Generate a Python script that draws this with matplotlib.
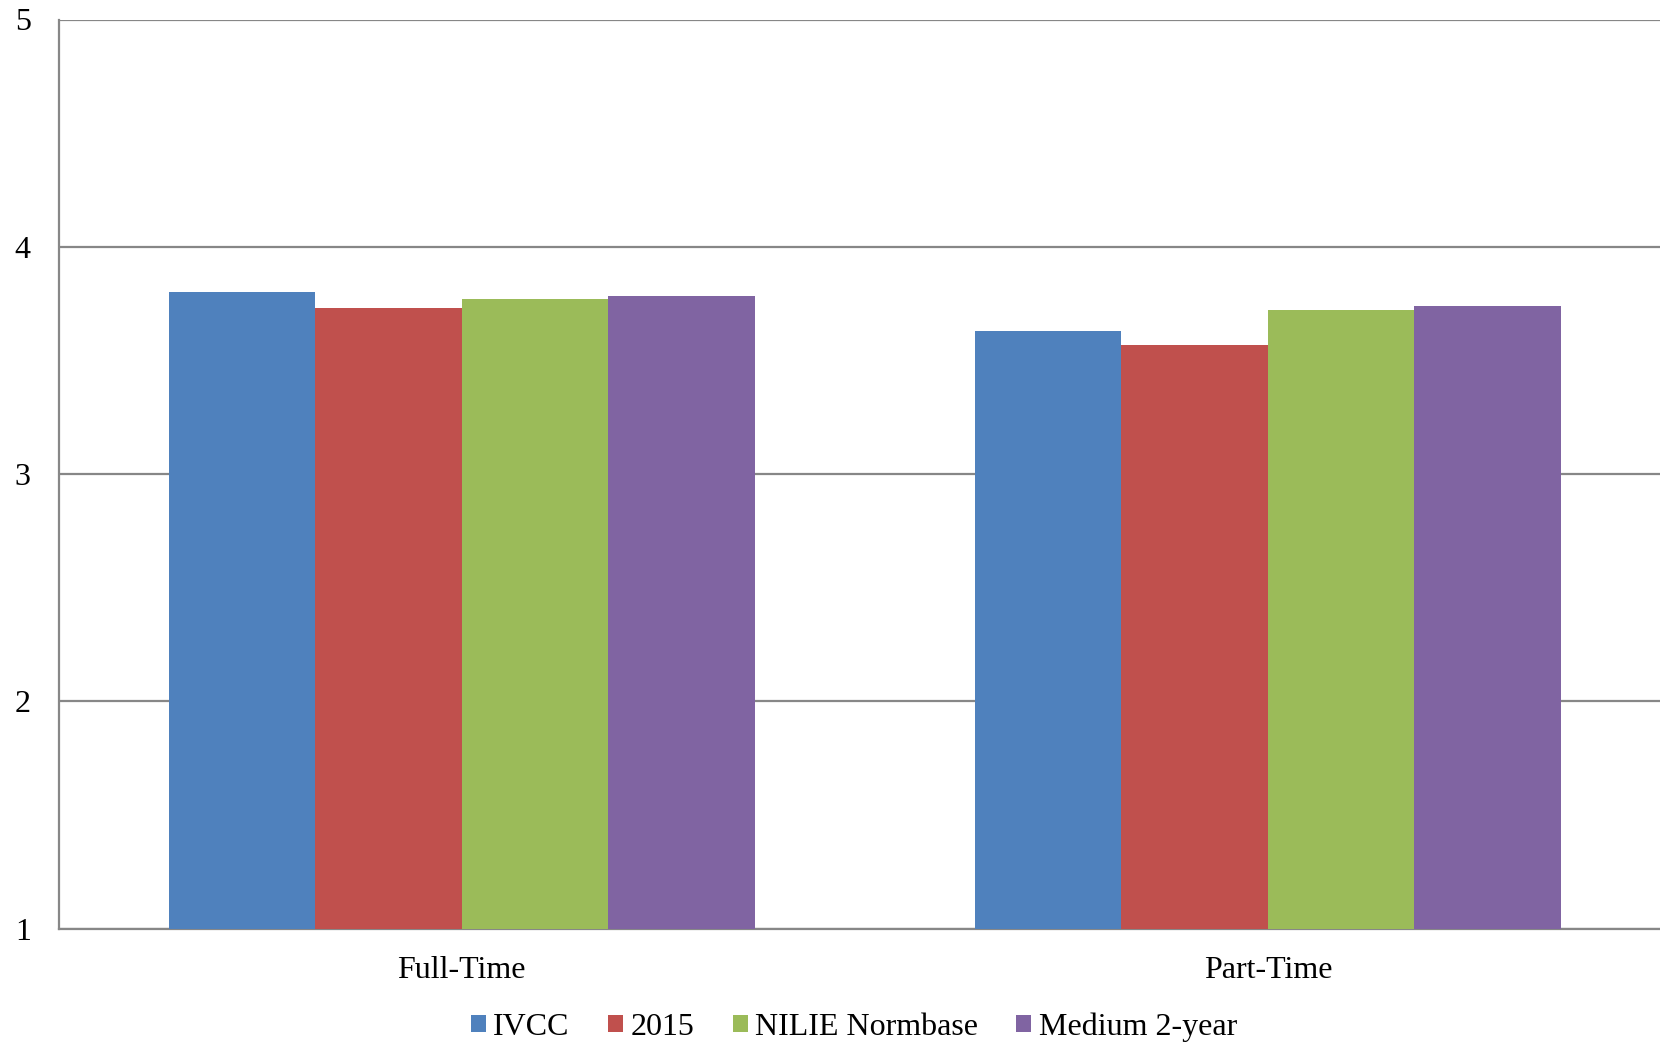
import numpy as np
import matplotlib.pyplot as plt
from matplotlib.patches import Patch

plt.rcParams['font.family'] = ['Liberation Serif', 'DejaVu Serif']

categories = ['Full-Time', 'Part-Time']
series = ['IVCC', '2015', 'NILIE Normbase', 'Medium 2-year']
ivcc = [3.80, 3.63]
y2015 = [3.73, 3.57]
nilie = [3.77, 3.72]
medium = [3.785, 3.74]
colors = ['#4F81BD', '#C0504D', '#9BBB59', '#8064A2']

values = [ivcc, y2015, nilie, medium]

W, H = 1660, 1045
fig = plt.figure(figsize=(W / 100, H / 100), dpi=100)
# axes runs a bit past the right edge of the picture, like the original
left, right, top, bottom = 58.5, 1671, 19.5, 928.7
ax = fig.add_axes([left / W, (H - bottom) / H, (right - left) / W, (bottom - top) / H])

x = np.arange(len(categories))
bw = 0.1817
for i, vals in enumerate(values):
    ax.bar(x + (i - 1.5) * bw, np.array(vals) - 1, bottom=1, width=bw,
           color=colors[i], edgecolor='none', zorder=3)

ax.set_xlim(-0.5, 1.5)
ax.set_ylim(1, 5)
ax.set_yticks([1, 2, 3, 4, 5])
ax.yaxis.grid(True, color='#878787', linewidth=1.6, zorder=0)
ax.set_xticks(x)
ax.set_xticklabels(categories)
ax.tick_params(axis='both', length=0, labelsize=23)
ax.tick_params(axis='y', pad=20)
ax.tick_params(axis='x', pad=19.5)
for s in ['top', 'right']:
    ax.spines[s].set_visible(False)
for s in ['left', 'bottom']:
    ax.spines[s].set_color('#878787')
    ax.spines[s].set_linewidth(1.6)

handles = [Patch(facecolor=c, edgecolor='none') for c in colors]
fig.legend(handles, series, loc='center', bbox_to_anchor=(854 / W, 1 - 1027 / H),
           ncol=4, frameon=False, fontsize=23, handlelength=0.47, handleheight=0.47,
           handletextpad=0.23, columnspacing=1.2)

fig.savefig('out.png', dpi=100)
